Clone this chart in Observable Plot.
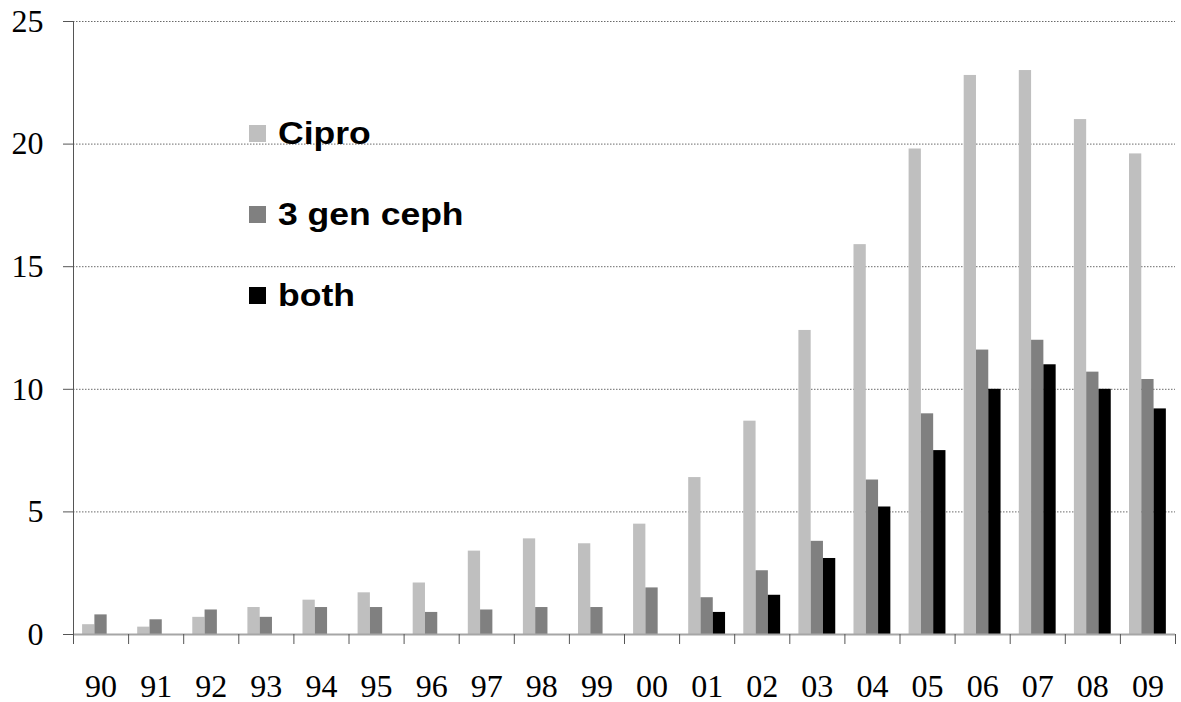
<!DOCTYPE html>
<html>
<head>
<meta charset="utf-8">
<script src="https://cdn.jsdelivr.net/npm/d3@7"></script>
<script src="https://cdn.jsdelivr.net/npm/@observablehq/plot@0.6"></script>
<style>
  html, body { margin: 0; padding: 0; background: #fff; }
  #wrap { position: relative; width: 1181px; height: 702px; }
  #legend { position: absolute; left: 249px; top: 0; font-family: "Liberation Sans", Arial, sans-serif; font-weight: bold; font-size: 32px; color: #000; }
  .item { position: absolute; left: 0; display: flex; align-items: center; height: 34px; white-space: nowrap; }
  .sw { width: 17px; height: 17px; margin-right: 12px; flex: none; }
  .lab { display: inline-block; transform: scaleX(1.11); transform-origin: left center; }
</style>
</head>
<body>
<div id="wrap"><div id="legend"></div></div>
<script>
const years = ["90","91","92","93","94","95","96","97","98","99","00","01","02","03","04","05","06","07","08","09"];
const cipro = [0.4, 0.3, 0.7, 1.1, 1.4, 1.7, 2.1, 3.4, 3.9, 3.7, 4.5, 6.4, 8.7, 12.4, 15.9, 19.8, 22.8, 23.0, 21.0, 19.6];
const ceph  = [0.8, 0.6, 1.0, 0.7, 1.1, 1.1, 0.9, 1.0, 1.1, 1.1, 1.9, 1.5, 2.6, 3.8, 6.3, 9.0, 11.6, 12.0, 10.7, 10.4];
const both  = [null, null, null, null, null, null, null, null, null, null, null, 0.9, 1.6, 3.1, 5.2, 7.5, 10.0, 11.0, 10.0, 9.2];
const seriesNames = ["Cipro", "3 gen ceph", "both"];
const seriesColors = ["#bfbfbf", "#808080", "#000000"];
const yTicks = [0, 5, 10, 15, 20, 25];

// tidy rows built from the arrays above
const rows = [];
[cipro, ceph, both].forEach((vals, s) => {
  vals.forEach((v, i) => {
    if (v != null) rows.push({i, s, year: years[i], series: seriesNames[s], value: v});
  });
});

// bar layout within each year slot (fractions of one slot)
const groupPad = 0.165, barW = 0.223;

const chart = Plot.plot({
  width: 1181,
  height: 702,
  marginLeft: 73,
  marginRight: 6,
  marginTop: 21,
  marginBottom: 68,
  style: {background: "#fff", overflow: "visible"},
  x: {domain: [0, years.length]},
  y: {domain: [0, 25]},
  color: {domain: seriesNames, range: seriesColors},
  marks: [
    Plot.ruleY(yTicks.filter(t => t > 0), {stroke: "#6a6a6a", strokeWidth: 1, strokeDasharray: "1.5,1.5"}),
    Plot.rectY(rows, {
      x1: d => d.i + groupPad + d.s * barW,
      x2: d => d.i + groupPad + (d.s + 1) * barW,
      y: "value",
      fill: "series"
    }),
    Plot.ruleY([0], {stroke: "#a6a6a6", strokeWidth: 2}),
    Plot.ruleX([0], {y1: 25, y2: 0, insetBottom: -10, stroke: "#555", strokeWidth: 1}),
    Plot.ruleX(d3.range(1, years.length + 1), {y1: 0, y2: 0, insetBottom: -10, stroke: "#555", strokeWidth: 1}),
    Plot.axisY(yTicks, {
      tickSize: 10, tickPadding: 20, stroke: "#555",
      fontSize: 32, fontFamily: "Liberation Serif, Times New Roman, serif",
      tickFormat: d => String(d), label: null
    }),
    Plot.axisX(years.map((_, i) => i + 0.5), {
      tickSize: 0, tickPadding: 40,
      fontSize: 32, fontFamily: "Liberation Serif, Times New Roman, serif",
      tickFormat: t => years[Math.floor(t)], label: null
    })
  ]
});
document.getElementById("wrap").prepend(chart);

// legend overlaid inside the plot area
const legendTops = [116, 197, 278];
const legend = document.getElementById("legend");
seriesNames.forEach((name, k) => {
  const item = document.createElement("div");
  item.className = "item";
  item.style.top = legendTops[k] + "px";
  const sw = document.createElement("span");
  sw.className = "sw";
  sw.style.background = seriesColors[k];
  const label = document.createElement("span");
  label.className = "lab";
  label.textContent = name;
  item.append(sw, label);
  legend.append(item);
});
</script>
</body>
</html>
